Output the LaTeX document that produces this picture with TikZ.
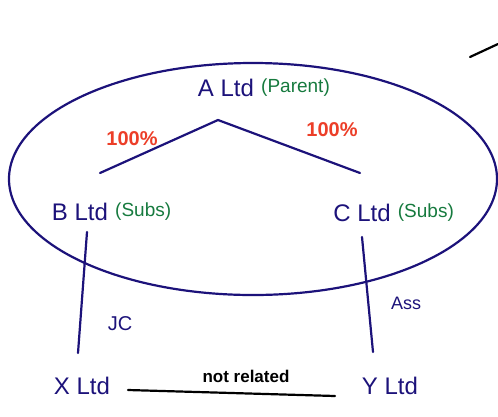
\documentclass[tikz,border=0pt]{standalone}
\usepackage{fontspec}
\setmainfont{Liberation Sans}
\usetikzlibrary{positioning}
\definecolor{inkblue}{RGB}{28,18,122}
\definecolor{inkgreen}{RGB}{22,122,62}
\definecolor{inkred}{RGB}{236,62,40}
\begin{document}
\begin{tikzpicture}[x=1pt,y=-1pt,line width=2.2pt,line cap=round,
  company/.style={inkblue,font=\fontsize{24}{28}\selectfont,inner sep=1pt},
  role/.style={inkgreen,font=\fontsize{19}{22}\selectfont,inner sep=1pt},
  share/.style={inkred,font=\fontsize{20}{24}\selectfont\bfseries,inner sep=1pt}]
  \useasboundingbox (0,0) rectangle (498,416);
  % group boundary
  \draw[inkblue] (253,179) ellipse [x radius=244, y radius=116];
  % companies
  \node[company] (altd) at (226,88) {A Ltd};
  \node[role,right=3pt of altd] (apar) {(Parent)};
  \node[company] (bltd) at (80,212) {B Ltd};
  \node[role,right=3pt of bltd] (bsub) {(Subs)};
  \node[company] (cltd) at (362,213) {C Ltd};
  \node[role,right=3pt of cltd] (csub) {(Subs)};
  \node[company] (xltd) at (82,386) {X Ltd};
  \node[company] (yltd) at (390,386) {Y Ltd};
  % ownership
  \coordinate (top) at (218,120);
  \coordinate (bend) at (100,173);
  \coordinate (cend) at (360,173);
  \draw[inkblue] (bend) -- (top) -- (cend);
  \node[share] (bpct) at (132,139) {100\%};
  \node[share] (cpct) at (332,130) {100\%};
  % links outside the group
  \coordinate (bfoot) at (87,232);
  \coordinate (xhead) at (78,353);
  \coordinate (cfoot) at (362,237);
  \coordinate (yhead) at (373,352);
  \draw[inkblue] (bfoot) -- (xhead);
  \draw[inkblue] (cfoot) -- (yhead);
  \node[company,font=\fontsize{20}{24}\selectfont] (jc) at (120,324) {JC};
  \node[company,font=\fontsize{18}{22}\selectfont] (ass) at (406,303) {Ass};
  \coordinate (nrleft) at (128,390);
  \coordinate (nrright) at (335,396);
  \draw[black] (nrleft) -- (nrright);
  \node[font=\fontsize{17}{20}\selectfont\bfseries] (nrel) at (246,376) {not related};
  % stray stroke
  \draw[black] (470,57) -- (498,44);
\end{tikzpicture}
\end{document}
